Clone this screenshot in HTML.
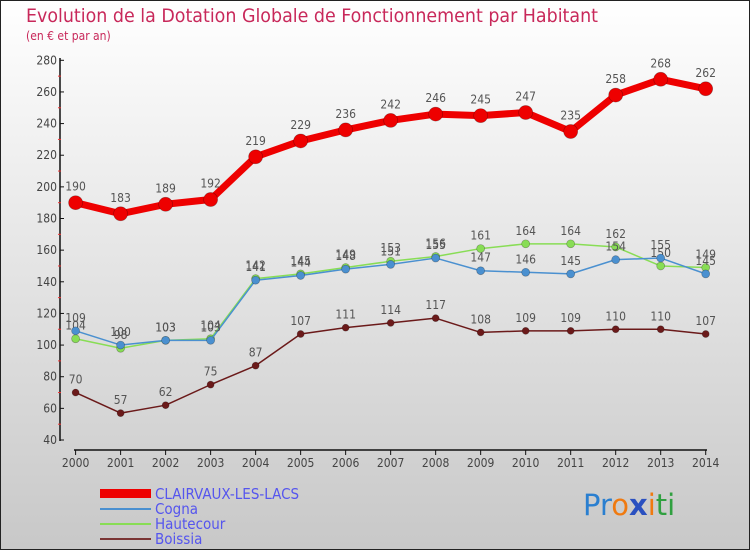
<!DOCTYPE html>
<html><head><meta charset="utf-8"><style>
body{margin:0}
svg{display:block;font-family:"DejaVu Sans Condensed","Liberation Sans Narrow","Liberation Sans",sans-serif}
</style></head><body>
<svg id="chart" width="750" height="550" viewBox="0 0 750 550" xmlns="http://www.w3.org/2000/svg">
<defs><linearGradient id="bg" x1="0" y1="0" x2="0" y2="1"><stop offset="0" stop-color="#ffffff"/><stop offset="1" stop-color="#c8c8c8"/></linearGradient></defs>
<rect x="0.5" y="0.5" width="749" height="549" fill="url(#bg)" stroke="#222" stroke-width="1"/>
<text x="26" y="22" font-size="19" fill="#c8285a" textLength="572" lengthAdjust="spacingAndGlyphs">Evolution de la Dotation Globale de Fonctionnement par Habitant</text>
<text x="26" y="40" font-size="12" fill="#c8285a">(en € et par an)</text>
<g id="axes"></g>
<g id="series"></g>
<g id="legend">
<rect x="100" y="489" width="51" height="9" fill="#e00"/>
<text x="155" y="499" font-size="15" fill="#5555ee">CLAIRVAUX-LES-LACS</text>
<line x1="100" y1="509" x2="151" y2="509" stroke="#4a90d0" stroke-width="2"/>
<text x="155" y="514" font-size="15" fill="#5555ee">Cogna</text>
<line x1="100" y1="524" x2="151" y2="524" stroke="#88dd55" stroke-width="2"/>
<text x="155" y="529" font-size="15" fill="#5555ee">Hautecour</text>
<line x1="100" y1="539" x2="151" y2="539" stroke="#7a3535" stroke-width="2"/>
<text x="155" y="544" font-size="15" fill="#5555ee">Boissia</text>
</g>
<g font-size="29" font-family="'DejaVu Sans',sans-serif">
<text x="583" y="515"><tspan fill="#2a7fd0">Pr</tspan><tspan fill="#f07a10">o</tspan><tspan fill="#2a50c0" font-weight="bold">x</tspan><tspan fill="#f07a10">i</tspan><tspan fill="#30a040">ti</tspan></text>
</g>
</svg>
<script>
const years=["2000","2001","2002","2003","2004","2005","2006","2007","2008","2009","2010","2011","2012","2013","2014"];
const yTicks=[40,60,80,100,120,140,160,180,200,220,240,260,280];
const clairvaux=[190,183,189,192,219,229,236,242,246,245,247,235,258,268,262];
const cogna=[109,100,103,103,141,144,148,151,155,147,146,145,154,155,145];
const hautecour=[104,98,103,104,142,145,149,153,156,161,164,164,162,150,149];
const boissia=[70,57,62,75,87,107,111,114,117,108,109,109,110,110,107];
const NS="http://www.w3.org/2000/svg";
const X0=75.6,X1=705.7,Y0=440,Y1=60.3,V0=40,V1=280;
function xs(i){return X0+(X1-X0)*i/(years.length-1);}
function ys(v){return Y0-(v-V0)*(Y0-Y1)/(V1-V0);}
function mk(tag,attrs,parent){const e=document.createElementNS(NS,tag);for(const k in attrs)e.setAttribute(k,attrs[k]);parent.appendChild(e);return e;}
const ax=document.getElementById('axes');
let l=mk('line',{x1:60,y1:58,x2:60,y2:441,stroke:'#111','stroke-width':1.5},ax);


l=mk('line',{x1:74,y1:450,x2:707,y2:450,stroke:'#111','stroke-width':1.5},ax);


yTicks.forEach((v,i)=>{
  const y=ys(v);
  mk('line',{x1:60,y1:y,x2:64,y2:y,stroke:'#111'},ax);
  const t=mk('text',{x:57,y:y+4,'text-anchor':'end','font-size':12,fill:'#444'},ax);
  t.textContent=v;
  
  
  if(i<yTicks.length-1){const ym=ys(v+10);mk('line',{x1:58,y1:ym,x2:61,y2:ym,stroke:'#e33'},ax);}
});
years.forEach((yr,i)=>{
  const x=xs(i);
  mk('line',{x1:x,y1:450,x2:x,y2:455,stroke:'#111'},ax);
  const t=mk('text',{x:x,y:467,'text-anchor':'middle','font-size':12,fill:'#444'},ax);
  t.textContent=yr;
  
  
});
const sg=document.getElementById('series');
function draw(name,data,color,w,r,lab){
  const g=mk('g',{},sg);
  
  
  const p=mk('polyline',{points:data.map((v,i)=>xs(i)+','+ys(v)).join(' '),fill:'none',stroke:color,'stroke-width':w,'stroke-linejoin':'round'},g);
  
  
  data.forEach((v,i)=>{
    const c=mk('circle',{cx:xs(i),cy:ys(v),r:r,fill:color,stroke:'rgba(0,0,0,0.3)','stroke-width':0.7},g);
    
    
    const t=mk('text',{x:xs(i),y:ys(v)-lab,'text-anchor':'middle','font-size':12,fill:'#555'},g);
    t.textContent=v;
    
    
  });
}
draw('boissia',boissia,'#6b1a1a',1.5,3.5,9);
draw('hautecour',hautecour,'#88dd55',1.5,4,9);
draw('cogna',cogna,'#4a90d0',1.5,4,9);
draw('clairvaux',clairvaux,'#ee0000',7,7,12);
</script>
</body></html>
